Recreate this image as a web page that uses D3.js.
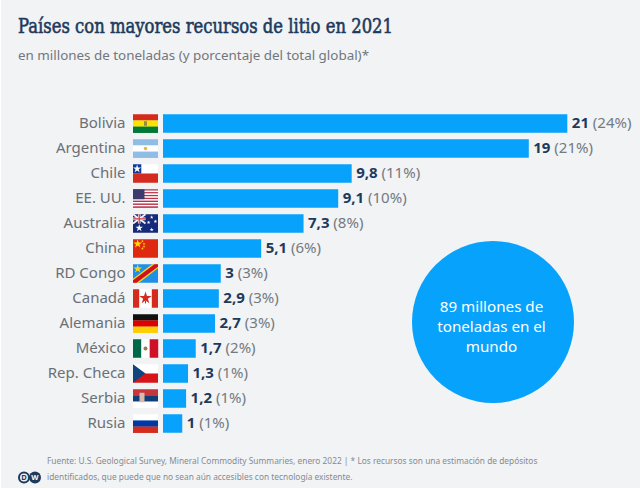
<!DOCTYPE html>
<html lang="es">
<head>
<meta charset="utf-8">
<script src="https://cdn.jsdelivr.net/npm/d3@7"></script>
<style>
html,body{margin:0;padding:0;background:#fff}
svg{display:block}
text{font-family:"Noto Sans",sans-serif}
</style>
</head>
<body>
<svg id="chart" width="640" height="488"></svg>
<script>
const countries = ["Bolivia","Argentina","Chile","EE. UU.","Australia","China","RD Congo","Canadá","Alemania","México","Rep. Checa","Serbia","Rusia"];
const flagCodes = ["bo","ar","cl","us","au","cn","cd","ca","de","mx","cz","rs","ru"];
const resources = [21,19,9.8,9.1,7.3,5.1,3,2.9,2.7,1.7,1.3,1.2,1];
const valueLabels = ["21","19","9,8","9,1","7,3","5,1","3","2,9","2,7","1,7","1,3","1,2","1"];
const shares = [24,21,11,10,8,6,3,3,3,2,1,1,1];

const titleText = "Países con mayores recursos de litio en 2021";
const subtitleText = "en millones de toneladas (y porcentaje del total global)*";
const calloutLines = ["89 millones de","toneladas en el","mundo"];
const sourceLines = [
  "Fuente: U.S. Geological Survey, Mineral Commodity Summaries, enero 2022 | * Los recursos son una estimación de depósitos",
  "identificados, que puede que no sean aún accesibles con tecnología existente."
];

const BLUE = "#07a2fb";
const svg = d3.select("#chart");
svg.append("rect").attr("x",1).attr("y",0).attr("width",639).attr("height",488).attr("fill","#f1f3f5");

svg.append("text").attr("x",18).attr("y",32.5)
  .attr("font-size",19.5).attr("fill","#1d3a5c")
  .attr("stroke","#1d3a5c").attr("stroke-width",0.6)
  .style("font-family","'DejaVu Serif',serif")
  .attr("textLength",375).attr("lengthAdjust","spacingAndGlyphs").text(titleText);
svg.append("text").attr("x",18).attr("y",60)
  .attr("font-size",13.4).attr("fill","#71777e").text(subtitleText);

const x = d3.scaleLinear().domain([0,21]).range([163,567.3]);
const y = d3.scaleBand().domain(countries).range([111,436]).paddingInner(0.26).paddingOuter(0.13);

const rows = svg.append("g").selectAll("g").data(countries).join("g")
  .attr("transform",c=>`translate(0,${y(c)})`);

rows.append("rect")
  .attr("x",x(0)).attr("width",(c,i)=>x(resources[i])-x(0))
  .attr("height",y.bandwidth()).attr("fill",BLUE);

rows.append("text")
  .attr("x",125.5).attr("y",y.bandwidth()/2-0.6).attr("dy","0.35em")
  .attr("text-anchor","end").attr("font-size",15).attr("fill","#6a7077").text(c=>c);

const valueText = rows.append("text")
  .attr("x",(c,i)=>x(resources[i])+4.5).attr("y",y.bandwidth()/2-0.6).attr("dy","0.35em")
  .attr("font-size",15).attr("fill","#737a82");
valueText.append("tspan").attr("font-weight",700).attr("fill","#1d3a5c").text((c,i)=>valueLabels[i]);
valueText.append("tspan").text((c,i)=>` (${shares[i]}%)`);

// Flags are 25x18.5 tiles painted from stripes plus a few small emblems.
const FW = 25, FH = 18.5;
const flagG = rows.append("g").attr("transform",`translate(133,${(y.bandwidth()-FH)/2})`);
const box = (g,a,b,w,h,f)=>g.append("rect").attr("x",a).attr("y",b).attr("width",w).attr("height",h).attr("fill",f);
const poly = (g,p,f)=>g.append("polygon").attr("points",p).attr("fill",f);
const hstripes = (g,cols)=>cols.forEach((c,k)=>box(g,0,k*FH/cols.length,FW,FH/cols.length+0.2,c));
const vstripes = (g,cols)=>cols.forEach((c,k)=>box(g,k*FW/cols.length,0,FW/cols.length+0.2,FH,c));
const star = (g,cx,cy,r,f)=>g.append("path").attr("transform",`translate(${cx},${cy})`)
  .attr("d",d3.symbol(d3.symbolStar,r*r*3)()).attr("fill",f);

const painters = {
  bo:g=>{hstripes(g,["#d52b1e","#f9e300","#007934"]);box(g,11,7,3,4.5,"#9a8a3a");},
  ar:g=>{hstripes(g,["#8fbde6","#ffffff","#8fbde6"]);g.append("circle").attr("cx",12.5).attr("cy",9.25).attr("r",1.8).attr("fill","#e6b84a");},
  cl:g=>{box(g,0,0,FW,9.25,"#ffffff");box(g,0,9.25,FW,9.25,"#d52b1e");box(g,0,0,8.3,9.25,"#0f3a9a");star(g,4.1,4.6,2.6,"#ffffff");},
  us:g=>{d3.range(13).forEach(k=>box(g,0,k*FH/13,FW,FH/13+0.1,k%2?"#ffffff":"#b8334a"));box(g,0,0,11.5,10,"#3c3b6e");},
  au:g=>{box(g,0,0,FW,FH,"#152a78");
    g.append("path").attr("d","M0 0L12.5 9.25M12.5 0L0 9.25").attr("stroke","#f3f3f3").attr("stroke-width",1.8);
    g.append("path").attr("d","M6.25 0V9.25M0 4.6H12.5").attr("stroke","#f3f3f3").attr("stroke-width",2.6);
    g.append("path").attr("d","M6.25 0V9.25M0 4.6H12.5").attr("stroke","#d8334a").attr("stroke-width",1.2);
    star(g,6.25,13.8,2.4,"#fff");star(g,18.7,3,1.2,"#fff");star(g,22.4,7.2,1.2,"#fff");star(g,15.6,8.2,1.2,"#fff");star(g,18.7,15.4,1.3,"#fff");},
  cn:g=>{box(g,0,0,FW,FH,"#de2910");star(g,4.7,4.6,2.8,"#ffde00");star(g,9.4,2,.9,"#ffde00");star(g,11,4.6,.9,"#ffde00");star(g,11,7.2,.9,"#ffde00");star(g,9.4,9.2,.9,"#ffde00");},
  cd:g=>{box(g,0,0,FW,FH,"#1e90e8");poly(g,"0,18.5 0,14.5 19,0 25,0 25,4 6,18.5","#f7d618");poly(g,"0,18.5 0,16 21.5,0 25,0 25,2.5 3.5,18.5","#ce1021");star(g,4.7,4.6,2.8,"#f7d618");},
  ca:g=>{box(g,0,0,FW,FH,"#ffffff");box(g,0,0,6.2,FH,"#d52b1e");box(g,18.8,0,6.2,FH,"#d52b1e");star(g,12.5,8.8,4,"#d52b1e");box(g,12,11.2,1,3,"#d52b1e");},
  de:g=>hstripes(g,["#111111","#dd0000","#ffce00"]),
  mx:g=>{vstripes(g,["#006847","#ffffff","#ce1126"]);g.append("circle").attr("cx",12.5).attr("cy",9.25).attr("r",2).attr("fill","#9a7a50");},
  cz:g=>{box(g,0,0,FW,9.25,"#ffffff");box(g,0,9.25,FW,9.25,"#d7141a");poly(g,"0,0 12.5,9.25 0,18.5","#11457e");},
  rs:g=>{hstripes(g,["#c6363c","#0c4076","#ffffff"]);box(g,6.5,3.5,5,9.5,"#d9b8b0");},
  ru:g=>hstripes(g,["#ffffff","#0039a6","#d52b1e"])
};
flagG.each(function(c,i){painters[flagCodes[i]](d3.select(this));});

// Total callout
const circle = {cx:493,cy:322,r:81};
svg.append("circle").attr("cx",circle.cx).attr("cy",circle.cy).attr("r",circle.r).attr("fill",BLUE);
svg.append("text").attr("text-anchor","middle").attr("font-size",15.2).attr("fill","#ffffff")
  .selectAll("tspan").data(calloutLines).join("tspan")
  .attr("x",circle.cx-1.5).attr("y",(d,i)=>311.5+i*20.3).text(d=>d);

svg.append("g").selectAll("text").data(sourceLines).join("text")
  .attr("x",47).attr("y",(d,i)=>464+i*16)
  .attr("font-size",8.36).attr("fill","#868b91").text(d=>d);

// DW logo
const logo = svg.append("g").attr("transform","translate(0,477.5)");
logo.append("circle").attr("cx",24).attr("r",5).attr("fill","#f1f3f5").attr("stroke","#1d3a5c").attr("stroke-width",2);
logo.append("text").attr("x",24).attr("dy","0.35em").attr("text-anchor","middle")
  .attr("font-size",7.5).attr("font-weight",700).attr("fill","#1d3a5c").text("D");
logo.append("circle").attr("cx",35).attr("r",6).attr("fill","#1d3a5c");
logo.append("text").attr("x",35).attr("dy","0.35em").attr("text-anchor","middle")
  .attr("font-size",7.5).attr("font-weight",700).attr("fill","#ffffff").text("W");
</script>
</body>
</html>
